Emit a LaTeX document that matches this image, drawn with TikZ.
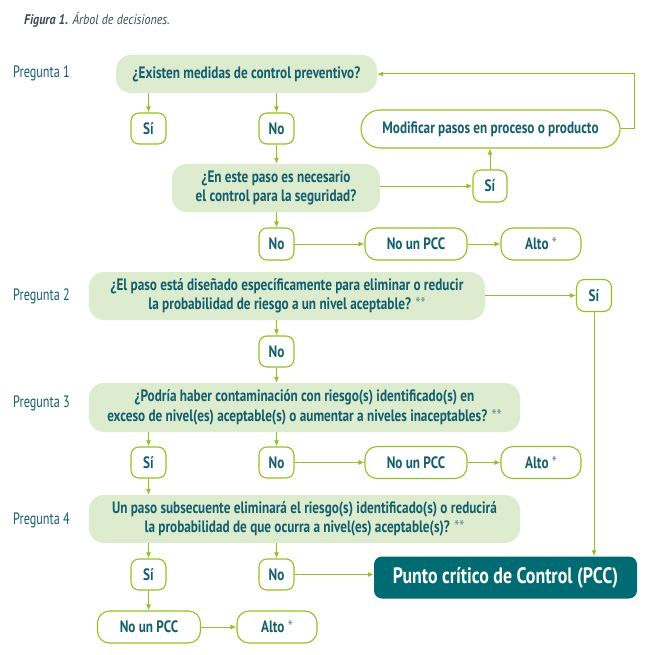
\documentclass[tikz,border=0pt]{standalone}
\usepackage{fontspec}
\setmainfont{PT Sans}
\newfontfamily\cf{PT Sans}[FakeStretch=0.80]
\newfontfamily\pf{PT Sans}[FakeStretch=0.74]
\newfontfamily\tf{PT Sans}[FakeStretch=0.86]
\usetikzlibrary{arrows.meta}
\definecolor{lc}{HTML}{94C11F}
\definecolor{tc}{HTML}{135F6E}
\definecolor{qf}{HTML}{DDEBCE}
\definecolor{pf}{HTML}{006B73}
\definecolor{ttl}{HTML}{3E4A52}
\definecolor{astc}{HTML}{7F9FA6}
\newcommand{\myast}[1]{{\color{astc}#1}}
\tikzset{
  qbox/.style={fill=qf, rounded corners=15pt, text=tc, font=\cf\bfseries\fontsize{16.5}{19.5}\selectfont, align=center, inner sep=0pt},
  sbox/.style={draw=lc, line width=1.1pt, fill=white, rounded corners=8pt, text=tc, font=\cf\bfseries\fontsize{16.5}{18}\selectfont, inner sep=0pt, minimum width=35pt, minimum height=31pt},
  wbox/.style={sbox, rounded corners=12pt, minimum height=32pt},
  plabel/.style={anchor=west, text=tc, font=\pf\fontsize{16.5}{18}\selectfont, inner sep=0pt},
  arr/.style={draw=lc, line width=1pt, -{Latex[length=6pt,width=5pt]}}
}
\begin{document}
\begin{tikzpicture}[x=1pt,y=-1pt]
\useasboundingbox (0,0) rectangle (655,655);
\node[anchor=base west, inner sep=0pt, text=ttl, font=\tf\fontsize{14}{16}\selectfont\itshape] (title) at (24,25) {\textbf{Figura 1.} Árbol de decisiones.};
\node[plabel] (p1) at (13,73) {Pregunta 1};
\node[plabel] (p2) at (13,296) {Pregunta 2};
\node[plabel] (p3) at (13,403) {Pregunta 3};
\node[plabel] (p4) at (13,520) {Pregunta 4};
% Q1
\node[qbox, minimum width=261pt, minimum height=38pt] (q1) at (246.5,74) {¿Existen medidas de control preventivo?};
\node[sbox] (s1) at (148.5,128.5) {Sí};
\node[sbox] (n1) at (276.5,128.5) {No};
\node[qbox, minimum width=208pt, minimum height=48pt] (q1b) at (276,188) {¿En este paso es necesario\\el control para la seguridad?};
\node[sbox, minimum width=34pt, minimum height=32pt] (s1b) at (490,186) {Sí};
\node[sbox, rounded corners=19pt, minimum width=259pt, minimum height=38pt] (mod) at (490.5,129) {Modificar pasos en proceso o producto};
\coordinate (loop) at (634,74);
\node[sbox, minimum height=32pt] (n1b) at (276.5,244) {No};
\node[wbox, minimum width=102pt] (npcc1) at (416,244) {No un PCC};
\node[wbox, minimum width=80pt] (alto1) at (541,244) {Alto \myast{*}};
% Q2
\node[qbox, minimum width=396pt, minimum height=48pt] (q2) at (287,296) {¿El paso está diseñado específicamente para eliminar o reducir\\la probabilidad de riesgo a un nivel aceptable? \myast{**}};
\node[sbox, minimum height=32pt] (s2) at (594,295.5) {Sí};
\node[sbox] (n2) at (276.5,351.5) {No};
% Q3
\node[qbox, minimum width=431pt, minimum height=49pt] (q3) at (304.5,407.5) {¿Podría haber contaminación con riesgo(s) identificado(s) en\\exceso de nivel(es) aceptable(s) o aumentar a niveles inaceptables? \myast{**}};
\node[sbox] (s3) at (148.5,462.5) {Sí};
\node[sbox] (n3) at (276.5,462.5) {No};
\node[wbox, minimum width=102pt] (npcc3) at (416,462.5) {No un PCC};
\node[wbox, minimum width=80pt] (alto3) at (541,462.5) {Alto \myast{*}};
% Q4
\node[qbox, minimum width=431pt, minimum height=48pt] (q4) at (304.5,519) {Un paso subsecuente eliminará el riesgo(s) identificado(s) o reducirá\\la probabilidad de que ocurra a nivel(es) aceptable(s)? \myast{**}};
\node[sbox] (s4) at (148.5,574.5) {Sí};
\node[sbox] (n4) at (276.5,574.5) {No};
\node[fill=pf, rounded corners=8pt, text=white, font=\cf\bfseries\fontsize{22.3}{26}\selectfont, minimum width=263pt, minimum height=42pt, inner sep=0pt] (pcc) at (505.5,577.5) {Punto crítico de Control (PCC)};
\node[wbox, minimum width=103pt] (npcc4) at (149,627) {No un PCC};
\node[wbox, minimum width=80pt] (alto4) at (277,627) {Alto \myast{*}};
% connectors
\draw[arr] (s1 |- q1.south) -- (s1.north);
\draw[arr] (n1 |- q1.south) -- (n1.north);
\draw[arr] (n1.south) -- (n1 |- q1b.north);
\draw[arr] (q1b.east |- s1b) -- (s1b.west);
\draw[arr] (s1b.north) -- (s1b |- mod.south);
\draw[arr] (mod.east) -- (mod.east -| loop) -- (loop) -- (q1.east);
\draw[arr] (n1b |- q1b.south) -- (n1b.north);
\draw[arr] (n1b.east) -- (npcc1.west);
\draw[arr] (npcc1.east) -- (alto1.west);
\draw[arr] (q2.east |- s2) -- (s2.west);
\draw[arr] (n2 |- q2.south) -- (n2.north);
\draw[arr] (n2.south) -- (n2 |- q3.north);
\draw[arr] (s2.south) -- (s2 |- pcc.north);
\draw[arr] (s3 |- q3.south) -- (s3.north);
\draw[arr] (n3 |- q3.south) -- (n3.north);
\draw[arr] (n3.east) -- (npcc3.west);
\draw[arr] (npcc3.east) -- (alto3.west);
\draw[arr] (s3.south) -- (s3 |- q4.north);
\draw[arr] (s4 |- q4.south) -- (s4.north);
\draw[arr] (n4 |- q4.south) -- (n4.north);
\draw[arr] (n4.east) -- (pcc.west |- n4);
\draw[arr] (s4.south) -- (s4 |- npcc4.north);
\draw[arr] (npcc4.east) -- (alto4.west);
\end{tikzpicture}
\end{document}
